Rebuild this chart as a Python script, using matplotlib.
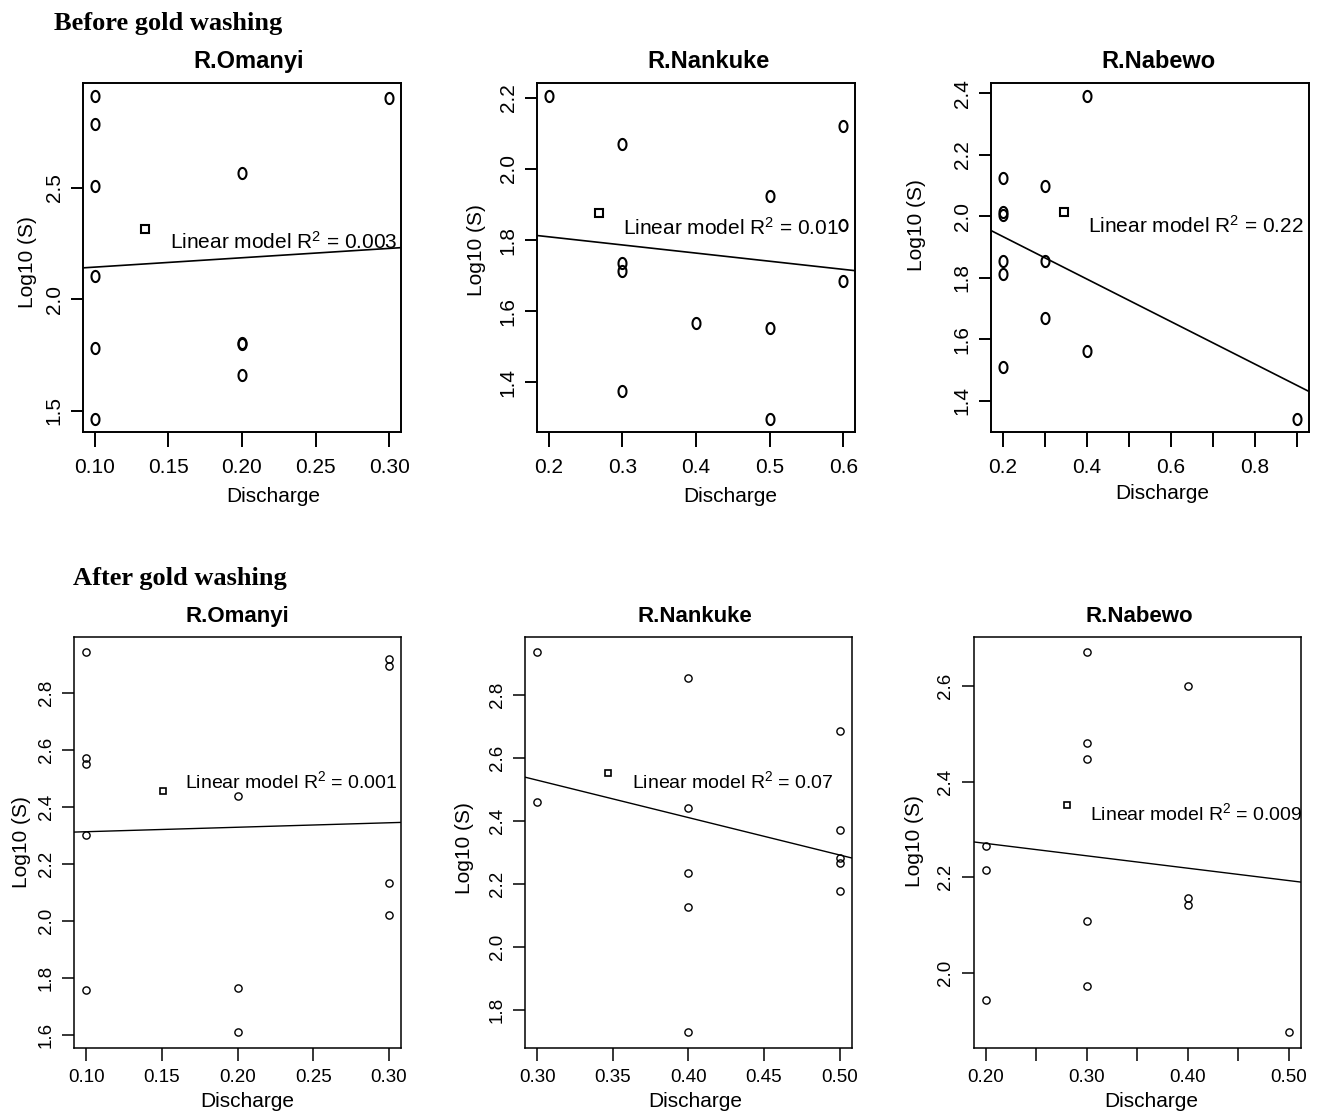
import numpy as np
import matplotlib
matplotlib.use('Agg')
import matplotlib.pyplot as plt
from matplotlib.path import Path

plt.rcParams['font.family'] = ['Liberation Sans', 'DejaVu Sans']
plt.rcParams['mathtext.fontset'] = 'custom'
plt.rcParams['mathtext.rm'] = 'Liberation Sans'
plt.rcParams['mathtext.it'] = 'Liberation Sans:italic'
plt.rcParams['mathtext.bf'] = 'Liberation Sans:bold'

# ---------------- data ----------------
rivers = ["R.Omanyi", "R.Nankuke", "R.Nabewo"]

# Before gold washing
before_omanyi_x = [0.1, 0.1, 0.1, 0.1, 0.1, 0.1, 0.2, 0.2, 0.2, 0.2, 0.3]
before_omanyi_y = [2.914, 2.787, 2.507, 2.105, 1.780, 1.464, 2.567, 1.800, 1.806, 1.659, 2.904]
before_omanyi_mean = (0.134, 2.316)
before_omanyi_fit = (2.1025, 0.420)    # intercept, slope
before_omanyi_r2 = "0.003"

before_nankuke_x = [0.2, 0.3, 0.3, 0.3, 0.3, 0.4, 0.5, 0.5, 0.5, 0.6, 0.6, 0.6]
before_nankuke_y = [2.206, 2.069, 1.736, 1.712, 1.377, 1.567, 1.923, 1.553, 1.298, 2.120, 1.843, 1.684]
before_nankuke_mean = (0.268, 1.876)
before_nankuke_fit = (1.855, -0.2286)
before_nankuke_r2 = "0.01"

before_nabewo_x = [0.2, 0.2, 0.2, 0.2, 0.2, 0.2, 0.3, 0.3, 0.3, 0.4, 0.4, 0.9]
before_nabewo_y = [2.125, 2.015, 2.005, 1.854, 1.813, 1.510, 2.098, 1.854, 1.669, 2.393, 1.561, 1.341]
before_nabewo_mean = (0.345, 2.015)
before_nabewo_fit = (2.073, -0.693)
before_nabewo_r2 = "0.22"

# After gold washing
after_omanyi_x = [0.1, 0.1, 0.1, 0.1, 0.1, 0.2, 0.2, 0.2, 0.3, 0.3, 0.3, 0.3]
after_omanyi_y = [2.943, 2.573, 2.551, 2.303, 1.758, 2.439, 1.764, 1.609, 2.919, 2.893, 2.134, 2.020]
after_omanyi_mean = (0.1506, 2.455)
after_omanyi_fit = (2.2976, 0.157)
after_omanyi_r2 = "0.001"

after_nankuke_x = [0.3, 0.3, 0.4, 0.4, 0.4, 0.4, 0.4, 0.5, 0.5, 0.5, 0.5, 0.5]
after_nankuke_y = [2.935, 2.460, 2.853, 2.442, 2.236, 2.126, 1.729, 2.685, 2.371, 2.282, 2.267, 2.178]
after_nankuke_mean = (0.347, 2.553)
after_nankuke_fit = (2.8852, -1.1865)
after_nankuke_r2 = "0.07"

after_nabewo_x = [0.2, 0.2, 0.2, 0.3, 0.3, 0.3, 0.3, 0.3, 0.4, 0.4, 0.4, 0.5]
after_nabewo_y = [2.265, 2.215, 1.944, 2.670, 2.481, 2.447, 2.109, 1.974, 2.599, 2.157, 2.143, 1.876]
after_nabewo_mean = (0.280, 2.352)
after_nabewo_fit = (2.3225, -0.2586)
after_nabewo_r2 = "0.009"

# tick values and labels
xt_omanyi = [0.10, 0.15, 0.20, 0.25, 0.30]
xl_omanyi = ["0.10", "0.15", "0.20", "0.25", "0.30"]
xt_nankuke_b = [0.2, 0.3, 0.4, 0.5, 0.6]
xl_nankuke_b = ["0.2", "0.3", "0.4", "0.5", "0.6"]
xt_nabewo_b = [0.2, 0.3, 0.4, 0.5, 0.6, 0.7, 0.8, 0.9]
xl_nabewo_b = ["0.2", "", "0.4", "", "0.6", "", "0.8", ""]
xt_nankuke_a = [0.30, 0.35, 0.40, 0.45, 0.50]
xl_nankuke_a = ["0.30", "0.35", "0.40", "0.45", "0.50"]
xt_nabewo_a = [0.20, 0.25, 0.30, 0.35, 0.40, 0.45, 0.50]
xl_nabewo_a = ["0.20", "", "0.30", "", "0.40", "", "0.50"]

yt_b_omanyi = [1.5, 2.0, 2.5]
yt_b_nankuke = [1.4, 1.6, 1.8, 2.0, 2.2]
yt_b_nabewo = [1.4, 1.6, 1.8, 2.0, 2.2, 2.4]
yt_a_omanyi = [1.6, 1.8, 2.0, 2.2, 2.4, 2.6, 2.8]
yt_a_nankuke = [1.8, 2.0, 2.2, 2.4, 2.6, 2.8]
yt_a_nabewo = [2.0, 2.2, 2.4, 2.6]

# ---------------- figure ----------------
W, H = 1320, 1113
fig = plt.figure(figsize=(W / 100, H / 100), dpi=100)

t = np.linspace(0, 2 * np.pi, 73)
ell = Path(np.column_stack([0.36 * np.cos(t), 0.5 * np.sin(t)]))


def rect(L, T, R, B):
    return [L / W, (H - B) / H, (R - L) / W, (B - T) / H]


panels = [
    dict(x=before_omanyi_x, y=before_omanyi_y, m=before_omanyi_mean, fit=before_omanyi_fit,
         r2=before_omanyi_r2, title=rivers[0], box=(83, 82.7, 401, 431.7),
         xt=xt_omanyi, xl=xl_omanyi, yt=yt_b_omanyi, yfmt="%.1f", top=True,
         txt=(0.2285, 2.26), tpos=0.522, xlab=(0.598, -0.186), ylab=(-0.176, 0.485)),
    dict(x=before_nankuke_x, y=before_nankuke_y, m=before_nankuke_mean, fit=before_nankuke_fit,
         r2=before_nankuke_r2, title=rivers[1], box=(537, 82.7, 855, 431.7),
         xt=xt_nankuke_b, xl=xl_nankuke_b, yt=yt_b_nankuke, yfmt="%.1f", top=True,
         txt=(0.4476, 1.834), tpos=0.54, xlab=(0.609, -0.186), ylab=(-0.19, 0.52)),
    dict(x=before_nabewo_x, y=before_nabewo_y, m=before_nabewo_mean, fit=before_nabewo_fit,
         r2=before_nabewo_r2, title=rivers[2], box=(991, 82.7, 1309, 431.7),
         xt=xt_nabewo_b, xl=xl_nabewo_b, yt=yt_b_nabewo, yfmt="%.1f", top=True,
         txt=(0.6594, 1.970), tpos=0.528, xlab=(0.539, -0.177), ylab=(-0.234, 0.592)),
    dict(x=after_omanyi_x, y=after_omanyi_y, m=after_omanyi_mean, fit=after_omanyi_fit,
         r2=after_omanyi_r2, title=rivers[0], box=(74.3, 637, 401, 1047.7),
         xt=xt_omanyi, xl=xl_omanyi, yt=yt_a_omanyi, yfmt="%.1f", top=False,
         txt=(0.2357, 2.489), tpos=0.50, xlab=(0.529, -0.131), ylab=(-0.161, 0.50)),
    dict(x=after_nankuke_x, y=after_nankuke_y, m=after_nankuke_mean, fit=after_nankuke_fit,
         r2=after_nankuke_r2, title=rivers[1], box=(525, 637, 851.7, 1047.7),
         xt=xt_nankuke_a, xl=xl_nankuke_a, yt=yt_a_nankuke, yfmt="%.1f", top=False,
         txt=(0.4294, 2.526), tpos=0.52, xlab=(0.522, -0.131), ylab=(-0.184, 0.486)),
    dict(x=after_nabewo_x, y=after_nabewo_y, m=after_nabewo_mean, fit=after_nabewo_fit,
         r2=after_nabewo_r2, title=rivers[2], box=(973.7, 637, 1300.7, 1047.7),
         xt=xt_nabewo_a, xl=xl_nabewo_a, yt=yt_a_nabewo, yfmt="%.1f", top=False,
         txt=(0.4086, 2.335), tpos=0.507, xlab=(0.542, -0.131), ylab=(-0.18, 0.503)),
]

for p in panels:
    ax = fig.add_axes(rect(*p["box"]))
    top = p["top"]
    lw_frame = 1.4 if top else 1.1
    if top:
        ax.plot(p["x"], p["y"], linestyle="none", marker=ell, markersize=8.0,
                markerfacecolor="none", markeredgecolor="black", markeredgewidth=1.5)
        ax.plot([p["m"][0]], [p["m"][1]], linestyle="none", marker="s", markersize=6.3,
                markerfacecolor="none", markeredgecolor="black", markeredgewidth=1.5)
    else:
        ax.plot(p["x"], p["y"], linestyle="none", marker="o", markersize=5.2,
                markerfacecolor="none", markeredgecolor="black", markeredgewidth=1.0)
        ax.plot([p["m"][0]], [p["m"][1]], linestyle="none", marker="s", markersize=5.0,
                markerfacecolor="none", markeredgecolor="black", markeredgewidth=1.2)
    ax.margins(x=0.04, y=0.04)
    # freeze R-style (4%) limits from the data before adding the infinite line
    ax.set_xlim(ax.get_xlim())
    ax.set_ylim(ax.get_ylim())
    b0, b1 = p["fit"]
    ax.axline((0.0, b0), slope=b1, color="black", linewidth=1.2 if top else 1.0)

    ax.set_xticks(p["xt"])
    ax.set_xticklabels(p["xl"])
    ax.set_yticks(p["yt"])
    ax.set_yticklabels([p["yfmt"] % v for v in p["yt"]])
    for s in ax.spines.values():
        s.set_linewidth(lw_frame)
    ax.tick_params(axis="x", direction="out", length=11 if top else 9, width=lw_frame,
                   labelsize=15 if top else 13.5, pad=8 if top else 6.5)
    ax.tick_params(axis="y", direction="out", length=8.5, width=lw_frame,
                   labelsize=15 if top else 13.5, pad=5.5, labelrotation=90)
    for lab in ax.get_yticklabels():
        lab.set_va("center")

    r2 = p["r2"]
    ax.text(p["txt"][0], p["txt"][1], "Linear model R$^{2}$ = " + r2, ha="center", va="center",
            fontsize=15 if top else 14)
    ax.text(p["tpos"], 1.062 if top else 1.049, p["title"], transform=ax.transAxes,
            ha="center", va="center", fontsize=17 if top else 16, fontweight="bold")
    ax.set_xlabel("Discharge", fontsize=15)
    ax.xaxis.set_label_coords(*p["xlab"])
    ax.xaxis.label.set_va("center")
    ax.set_ylabel("Log10 (S)", fontsize=15)
    ax.yaxis.set_label_coords(*p["ylab"])
    ax.yaxis.label.set_va("center")

fig.text(54 / W, 1 - 23.3 / H, "Before gold washing", ha="left", va="center",
         fontsize=19, fontweight="bold", family=["Liberation Serif", "DejaVu Serif"])
fig.text(72.7 / W, 1 - 578.3 / H, "After gold washing", ha="left", va="center",
         fontsize=19, fontweight="bold", family=["Liberation Serif", "DejaVu Serif"])

fig.savefig("out.png", dpi=100)
